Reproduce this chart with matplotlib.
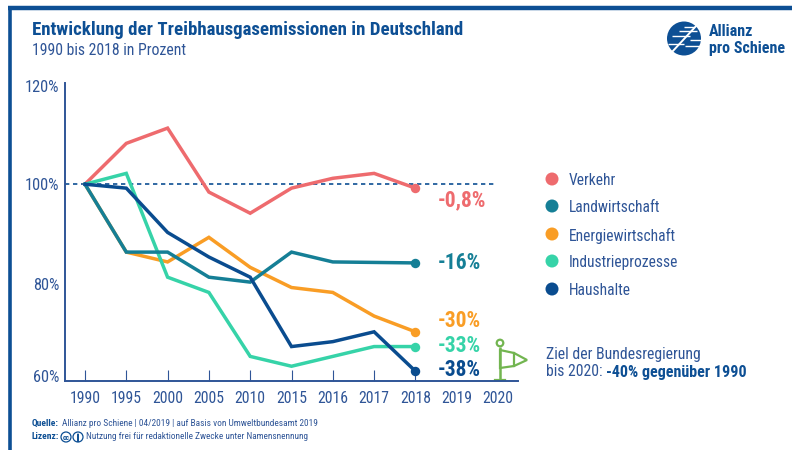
"""Treibhausgasemissionen in Deutschland, 1990 bis 2018."""
import matplotlib

matplotlib.use("Agg")
import matplotlib.pyplot as plt
from matplotlib import font_manager
from matplotlib.patches import Circle, Polygon

years = ["1990", "1995", "2000", "2005", "2010", "2015", "2016", "2017", "2018", "2019", "2020"]
verkehr = [100, 108.3, 111.4, 98.4, 94.1, 99.2, 101.2, 102.2, 99.2]
landwirtschaft = [100, 86.2, 86.2, 81.1, 80.1, 86.2, 84.2, 84.1, 84]
energie = [100, 86.2, 84.2, 89.2, 83.1, 79, 78, 73.2, 70]
industrie = [100, 102.2, 81.1, 78, 65, 63, 65, 67, 67]
haushalte = [100, 99.2, 90.2, 85.2, 81.1, 67, 68, 70, 62]
y_ticks = [60, 80, 100, 120]

names = ["Verkehr", "Landwirtschaft", "Energiewirtschaft", "Industrieprozesse", "Haushalte"]
end_labels = ["-0,8%", "-16%", "-30%", "-33%", "-38%"]
colors = ["#ee6b6e", "#157f96", "#f99d25", "#36d3a8", "#0a4c8f"]
BLUE = "#0d4f94"
TXT = "#2f5597"
GREEN = "#72b550"

installed = {f.name for f in font_manager.fontManager.ttflist}
narrow = "Roboto Condensed" if "Roboto Condensed" in installed else "Liberation Sans"
plt.rcParams["font.family"] = [narrow, "DejaVu Sans"]
k = 1.0 if narrow == "Roboto Condensed" else 0.86

fig = plt.figure(figsize=(7.92, 4.5), dpi=100)

# pixel overlay for frame, logo, flag and text
bg = fig.add_axes([0, 0, 1, 1])
bg.set_xlim(0, 792); bg.set_ylim(450, 0); bg.axis("off")
bg.plot([9.5, 9.5], [8, 450], color=BLUE, lw=2.6, solid_capstyle="butt")
bg.plot([8, 792], [8, 8], color=BLUE, lw=3.2, solid_capstyle="butt")

# main chart
ax = fig.add_axes([65 / 792, (450 - 381) / 450, 453 / 792, 298 / 450])
ax.patch.set_alpha(0)
ax.set_xlim(-0.484, 10.484)
ax.set_ylim(60, 120.57)
for s in ["top", "right"]:
    ax.spines[s].set_visible(False)
for s in ["left", "bottom"]:
    ax.spines[s].set_color(TXT)
    ax.spines[s].set_linewidth(1.4)
ax.set_xticks(range(9))
ax.set_xticklabels(years[:9])
ax.tick_params(axis="x", direction="in", length=8, width=0.8, color=TXT, labelcolor=TXT,
               labelsize=11.3 * k, pad=7)
ax.set_yticks(y_ticks)
ax.set_yticklabels([])
ax.tick_params(axis="y", length=0)
for i, yr in enumerate(years[9:]):
    ax.annotate(yr, (9 + i, 60), xytext=(0, -7), textcoords="offset points", ha="center", va="top",
                color=TXT, fontsize=11.3 * k, annotation_clip=False)
ax.plot([-0.484, 9.9], [100.1, 100.1], color=BLUE, lw=1.2, dashes=(2.6, 2.2), zorder=1)

series = [verkehr, landwirtschaft, energie, industrie, haushalte]
for idx in [0, 2, 3, 1, 4]:
    vals = series[idx]
    ax.plot(range(len(vals)), vals, color=colors[idx], lw=2.5, solid_joinstyle="miter", zorder=3)
    ax.plot(8, vals[-1], "o", color=colors[idx], ms=6.8, zorder=4, mec="none")

# y labels
for lab, py in zip(["120%", "100%", "80%", "60%"], [88, 186, 285, 378]):
    bg.text(59, py, lab, ha="right", va="center", color=TXT, fontsize=11.8 * k)

# end labels
for lab, py, c in zip(end_labels, [200, 263, 321, 346, 370], colors):
    bg.text(438, py, lab, ha="left", va="center", color=c, fontsize=15.5 * k, fontweight="bold")

# legend
for n, py, c in zip(names, [179, 206, 234, 261, 289], colors):
    bg.add_patch(Circle((552, py), 6.5, color=c, lw=0))
    bg.text(569, py + 1.5, n, ha="left", va="center", color=TXT, fontsize=11.2 * k)

# title
bg.text(32, 30, "Entwicklung der Treibhausgasemissionen in Deutschland", color=BLUE, fontsize=13.6 * k,
        fontweight="bold", va="center")
bg.text(32, 50.5, "1990 bis 2018 in Prozent", color=TXT, fontsize=11.3 * k, va="center")

# logo
bg.add_patch(Circle((684, 38.5), 17, color=BLUE, lw=0))
for x0, x1, py in [(684, 694, 27), (679, 697, 31), (672, 690, 36), (690, 702, 40), (668, 684, 44), (685, 702, 46)]:
    bg.plot([x0, x1], [py, py], color="white", lw=1.0, solid_capstyle="butt")
bg.plot([672, 697], [52, 25], color="white", lw=1.4)
bg.text(709, 32, "Allianz", color=BLUE, fontsize=11.5 * k, fontweight="bold", va="center")
bg.text(709, 48, "pro Schiene", color=BLUE, fontsize=11.5 * k, fontweight="bold", va="center")

# flag
bg.add_patch(Circle((500, 343), 3.3, fill=False, ec=GREEN, lw=1.6))
bg.plot([500, 500], [347, 379], color=GREEN, lw=1.8, solid_capstyle="butt")
bg.plot([495, 505], [379.5, 379.5], color=GREEN, lw=1.6)
bg.add_patch(Polygon([(500, 350), (514, 353), (527, 360), (514, 366), (500, 368)], fill=False, ec=GREEN, lw=1.6))
bg.plot([514, 514], [353, 366], color=GREEN, lw=1.6)

# Ziel
bg.text(546, 354.5, "Ziel der Bundesregierung", color=TXT, fontsize=11.3 * k, va="center")
t = bg.text(546, 372, "bis 2020: ", color=TXT, fontsize=11.3 * k, va="center")
bg.annotate("-40% gegenüber 1990", xy=(1, 0.5), xycoords=t, color=BLUE, fontsize=11.5 * k,
            fontweight="bold", va="center")

# footer
bg.text(32, 423.5, "Quelle:", color=BLUE, fontsize=6.8 * k, fontweight="bold", va="center")
bg.text(62, 423.5, "Allianz pro Schiene | 04/2019 | auf Basis von Umweltbundesamt 2019", color=TXT,
        fontsize=6.75 * k, va="center")
bg.text(32, 436.5, "Lizenz:", color=BLUE, fontsize=6.8 * k, fontweight="bold", va="center")
bg.add_patch(Circle((66, 437), 5, fill=False, ec=BLUE, lw=0.9))
bg.text(66, 437, "cc", color=BLUE, fontsize=5.5 * k, fontweight="bold", ha="center", va="center")
bg.add_patch(Circle((78, 437), 5, fill=False, ec=BLUE, lw=0.9))
bg.add_patch(Circle((78, 434.5), 1, color=BLUE, lw=0))
bg.plot([78, 78], [436, 441], color=BLUE, lw=1.4)
bg.text(86, 436.5, "Nutzung frei für redaktionelle Zwecke unter Namensnennung", color=TXT, fontsize=6.7 * k,
        va="center")

fig.savefig("out.png", dpi=100)
